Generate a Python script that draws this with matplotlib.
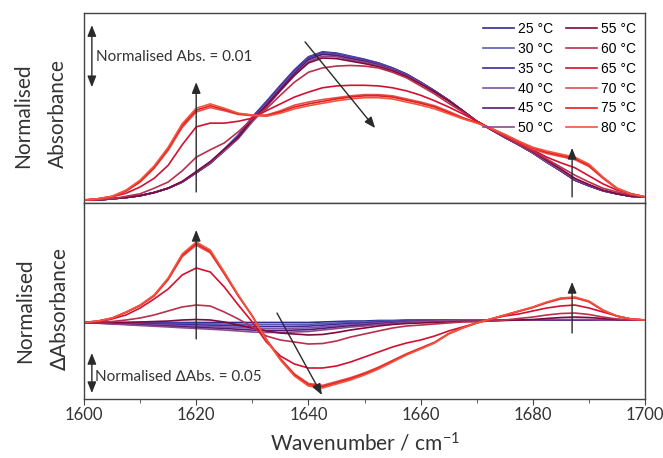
import numpy as np
import matplotlib
matplotlib.use("Agg")
import matplotlib.pyplot as plt
from matplotlib.ticker import MultipleLocator

plt.rcParams["font.family"] = ["Lato", "DejaVu Sans"]
plt.rcParams["mathtext.default"] = "regular"

# wavenumber grid (cm-1), 2.5 cm-1 steps
wavenumber = np.linspace(1600, 1700, 41)

temps = [25, 30, 35, 40, 45, 50, 55, 60, 65, 70, 75, 80]
colors = ["#2e2e8c", "#5b5bb5", "#3d2a9c", "#7b55a8", "#551a78", "#8a4a8c",
          "#7d0a3c", "#b8304e", "#d41030", "#e25050", "#e81c1c", "#f2553e"]

# normalised absorbance, units of 1e-3
abs_25 = [0.0, 0.0, 0.2, 0.4, 0.7, 1.2, 1.9, 2.9, 4.4, 6.0, 8.2, 10.5, 13.4, 15.9, 18.5, 21.0, 23.1, 23.9, 23.7, 23.2, 22.7,
          22.1, 21.3, 20.3, 19.0, 17.6, 16.1, 14.4, 12.7, 11.4, 10.1, 8.9, 7.6, 6.1, 4.7, 3.2, 2.3, 1.5, 1.0, 0.6, 0.5]
abs_30 = [0.0, 0.0, 0.2, 0.4, 0.7, 1.2, 1.9, 2.9, 4.4, 6.0, 8.2, 10.4, 13.3, 15.8, 18.4, 20.9, 23.0, 23.8, 23.6, 23.1, 22.6,
          22.1, 21.3, 20.3, 19.0, 17.6, 16.1, 14.4, 12.7, 11.4, 10.1, 8.9, 7.6, 6.1, 4.7, 3.2, 2.3, 1.5, 1.0, 0.6, 0.5]
abs_35 = [0.0, 0.0, 0.2, 0.4, 0.7, 1.2, 1.9, 2.9, 4.4, 6.0, 8.1, 10.3, 13.2, 15.7, 18.3, 20.8, 22.9, 23.7, 23.5, 23.0, 22.6,
          22.0, 21.2, 20.3, 19.0, 17.6, 16.1, 14.4, 12.7, 11.4, 10.1, 8.9, 7.6, 6.1, 4.7, 3.2, 2.3, 1.5, 1.0, 0.6, 0.5]
abs_40 = [0.0, 0.0, 0.2, 0.4, 0.7, 1.2, 1.9, 2.9, 4.4, 5.9, 8.0, 10.1, 13.0, 15.5, 18.1, 20.6, 22.7, 23.6, 23.4, 22.9, 22.5,
          21.9, 21.1, 20.2, 18.9, 17.5, 16.1, 14.4, 12.7, 11.4, 10.1, 8.9, 7.6, 6.1, 4.7, 3.2, 2.3, 1.5, 1.0, 0.6, 0.5]
abs_45 = [0.0, 0.0, 0.2, 0.4, 0.7, 1.2, 1.9, 2.9, 4.4, 5.9, 7.9, 10.0, 12.8, 15.3, 17.9, 20.4, 22.6, 23.5, 23.3, 22.8, 22.4,
          21.8, 21.0, 20.1, 18.8, 17.5, 16.0, 14.4, 12.7, 11.4, 10.1, 8.9, 7.6, 6.1, 4.7, 3.2, 2.3, 1.5, 1.0, 0.6, 0.5]
abs_50 = [0.0, 0.0, 0.2, 0.4, 0.7, 1.2, 1.9, 2.9, 4.5, 6.0, 7.9, 9.9, 12.6, 15.0, 17.6, 20.1, 22.3, 23.2, 23.1, 22.6, 22.2,
          21.7, 20.9, 20.0, 18.8, 17.4, 16.0, 14.3, 12.7, 11.4, 10.1, 8.9, 7.6, 6.1, 4.8, 3.3, 2.4, 1.5, 1.0, 0.6, 0.5]
abs_55 = [0.0, 0.0, 0.2, 0.4, 0.7, 1.2, 1.9, 3.0, 4.6, 6.2, 8.2, 10.1, 13.0, 15.2, 17.7, 20.1, 22.1, 22.9, 22.8, 22.4, 22.0,
          21.5, 20.8, 19.9, 18.7, 17.4, 16.0, 14.4, 12.7, 11.4, 10.2, 9.0, 7.8, 6.4, 5.0, 3.5, 2.5, 1.6, 1.0, 0.6, 0.5]
abs_60 = [0.0, 0.1, 0.2, 0.6, 1.0, 1.9, 2.9, 4.7, 6.9, 8.1, 9.2, 11.0, 13.1, 14.7, 16.9, 19.0, 20.6, 21.3, 21.6, 21.7, 21.6,
          21.3, 20.6, 19.7, 18.4, 17.1, 15.6, 14.2, 12.7, 11.5, 10.2, 9.0, 7.9, 6.6, 5.3, 4.0, 2.9, 1.9, 1.3, 0.8, 0.5]
abs_65 = [0.0, 0.2, 0.5, 1.1, 2.1, 3.5, 5.6, 8.9, 11.8, 12.4, 12.4, 12.7, 13.2, 14.4, 15.5, 16.6, 17.4, 18.1, 18.4, 18.5, 18.5,
          18.4, 18.1, 17.6, 16.9, 16.0, 15.0, 13.9, 12.7, 11.5, 10.3, 9.2, 8.1, 6.9, 6.0, 5.2, 3.9, 2.6, 1.6, 1.0, 0.5]
abs_70 = [0.0, 0.1, 0.5, 1.4, 2.9, 5.1, 8.0, 11.7, 14.2, 14.9, 14.4, 13.8, 13.6, 13.7, 14.4, 15.3, 15.8, 16.2, 16.5, 16.8, 17.0,
          17.0, 16.8, 16.3, 15.8, 15.2, 14.3, 13.3, 12.5, 11.5, 10.4, 9.3, 8.2, 7.5, 7.0, 6.5, 5.4, 3.5, 1.8, 1.0, 0.5]
abs_75 = [0.0, 0.2, 0.6, 1.5, 3.0, 5.3, 8.3, 12.0, 14.5, 15.2, 14.6, 13.9, 13.7, 13.6, 14.2, 15.0, 15.5, 15.9, 16.3, 16.6, 16.8,
          16.8, 16.6, 16.1, 15.6, 15.0, 14.1, 13.2, 12.5, 11.6, 10.5, 9.4, 8.4, 7.7, 7.2, 6.7, 5.6, 3.6, 1.9, 1.0, 0.5]
abs_80 = [0.0, 0.2, 0.6, 1.6, 3.2, 5.5, 8.5, 12.3, 14.8, 15.5, 14.8, 14.0, 13.7, 13.5, 14.0, 14.7, 15.2, 15.6, 16.0, 16.3, 16.5,
          16.5, 16.3, 15.8, 15.3, 14.7, 13.9, 13.1, 12.4, 11.6, 10.6, 9.5, 8.5, 7.9, 7.4, 6.9, 5.8, 3.7, 1.9, 1.0, 0.5]

# normalised difference absorbance, units of 1e-3
diff_25 = [-0.6, -0.6, -0.6, -0.6, -0.6, -0.6, -0.6, -0.6, -0.6, -0.6, -0.6, -0.6, -0.6, -0.6, -0.6, -0.6, -0.6, 0.0, 0.6, 1.2,
           1.2, 1.9, 1.9, 2.5, 2.5, 2.5, 2.5, 2.5, 2.5, 2.5, 2.5, 2.5, 2.5, 2.5, 2.5, 2.5, 2.5, 2.5, 2.5, 2.5, 2.5]
diff_30 = [-0.6, -0.8, -1.0, -1.2, -1.4, -1.5, -1.7, -1.9, -2.1, -2.3, -2.5, -2.7, -3.0, -3.1, -3.1, -3.0, -2.9, -2.0, -1.2, -0.3,
           0.0, 0.9, 1.2, 1.9, 2.1, 2.2, 2.4, 2.5, 2.5, 2.5, 2.5, 2.5, 2.5, 2.5, 2.5, 2.5, 2.5, 2.5, 2.5, 2.5, 2.5]
diff_35 = [-0.6, -1.0, -1.4, -1.7, -2.1, -2.5, -2.9, -3.2, -3.6, -4.0, -4.4, -4.9, -5.4, -5.6, -5.6, -5.4, -5.1, -4.0, -2.9, -1.8,
           -1.3, -0.1, 0.4, 1.4, 1.8, 2.0, 2.3, 2.5, 2.5, 2.5, 2.5, 2.5, 2.5, 2.5, 2.5, 2.5, 2.5, 2.5, 2.5, 2.5, 2.5]
diff_40 = [-0.6, -1.2, -1.7, -2.3, -2.9, -3.4, -4.0, -4.5, -5.1, -5.7, -6.2, -7.0, -7.7, -8.1, -8.1, -7.7, -7.4, -6.0, -4.6, -3.3,
           -2.6, -1.1, -0.4, 0.8, 1.4, 1.8, 2.1, 2.5, 2.5, 2.5, 2.5, 2.5, 2.5, 2.5, 2.5, 2.5, 2.5, 2.5, 2.5, 2.5, 2.5]
diff_45 = [-0.6, -1.4, -2.1, -2.9, -3.6, -4.4, -5.1, -5.9, -6.6, -7.4, -8.1, -9.1, -10.1, -10.6, -10.6, -10.1, -9.6, -8.0, -6.4,
           -4.8, -3.8, -2.1, -1.1, 0.2, 1.0, 1.5, 2.0, 2.5, 2.5, 2.5, 2.5, 2.5, 2.5, 2.5, 2.5, 2.5, 2.5, 2.5, 2.5, 2.5, 2.5]
diff_50 = [-0.6, -1.5, -2.5, -3.4, -4.4, -5.3, -6.2, -7.2, -8.1, -9.0, -10.0, -11.2, -12.5, -13.1, -13.1, -12.5, -11.9, -10.0,
           -8.2, -6.3, -5.0, -3.1, -1.9, -0.3, 0.6, 1.2, 1.9, 2.5, 2.5, 2.5, 2.5, 2.5, 2.5, 3.1, 3.1, 3.1, 3.1, 2.5, 2.5, 2.5, 2.5]
diff_55 = [-0.6, -0.6, -0.6, -0.6, 0.0, 0.6, 1.2, 2.5, 3.1, 2.5, 0.0, -3.8, -7.5, -11.2, -13.8, -15.0, -16.2, -15.6, -13.1, -10.0,
           -7.5, -5.0, -3.1, -1.9, -1.2, -0.6, 0.0, 0.6, 0.6, 1.2, 1.9, 2.5, 3.1, 4.4, 5.6, 6.2, 5.6, 4.4, 3.1, 2.5, 2.5]
diff_60 = [-0.6, 0.0, 0.6, 2.5, 5.0, 8.8, 13.8, 18.8, 21.2, 20.0, 12.5, 3.8, -6.2, -17.5, -22.5, -25.0, -27.5, -26.9, -23.8, -18.8,
           -15.0, -11.2, -7.5, -5.0, -3.8, -2.5, -1.2, 0.0, 0.6, 1.2, 2.5, 4.4, 6.2, 8.8, 10.6, 11.2, 9.4, 6.2, 3.8, 2.5, 2.5]
diff_65 = [-0.6, 0.0, 3.8, 8.8, 17.5, 28.8, 41.2, 58.8, 67.5, 62.5, 43.8, 21.2, 0.0, -25.0, -42.5, -52.5, -57.5, -57.5, -55.0,
           -50.0, -43.8, -37.5, -31.2, -26.2, -22.5, -17.5, -11.2, -6.2, -1.2, 3.8, 7.5, 10.0, 13.8, 17.5, 20.0, 21.2, 17.5, 12.5,
           7.5, 3.8, 2.5]
diff_70 = [-0.6, 1.2, 4.8, 12.0, 20.4, 32.4, 52.8, 81.6, 96.0, 86.4, 60.0, 32.4, 7.2, -21.6, -45.6, -64.8, -76.8, -79.2, -74.4,
           -69.6, -63.6, -56.4, -48.0, -39.6, -32.4, -25.2, -14.4, -7.2, -1.2, 3.6, 8.4, 13.2, 18.0, 24.0, 28.8, 30.0, 25.2, 14.4,
           7.2, 3.6, 2.5]
diff_75 = [-0.6, 1.2, 4.9, 12.2, 20.8, 33.1, 53.9, 83.3, 98.0, 88.2, 61.2, 33.1, 7.4, -22.0, -46.5, -66.1, -78.4, -80.8, -76.0,
           -71.0, -64.9, -57.6, -49.0, -40.4, -33.1, -25.7, -14.7, -7.4, -1.2, 3.7, 8.6, 13.5, 18.4, 24.5, 29.4, 30.6, 25.7, 14.7,
           7.4, 3.7, 2.5]
diff_80 = [-0.6, 1.2, 5.0, 12.5, 21.2, 33.8, 55.0, 85.0, 100.0, 90.0, 62.5, 33.8, 7.5, -22.5, -47.5, -67.5, -80.0, -82.5, -77.5,
           -72.5, -66.2, -58.8, -50.0, -41.2, -33.8, -26.2, -15.0, -7.5, -1.2, 3.8, 8.8, 13.8, 18.8, 25.0, 30.0, 31.2, 26.2, 15.0,
           7.5, 3.8, 2.5]

absorbance = [abs_25, abs_30, abs_35, abs_40, abs_45, abs_50,
              abs_55, abs_60, abs_65, abs_70, abs_75, abs_80]
difference = [diff_25, diff_30, diff_35, diff_40, diff_45, diff_50,
              diff_55, diff_60, diff_65, diff_70, diff_75, diff_80]

abs_scale = 0.01
diff_scale = 0.05

ink = "#2a2a2a"
fig = plt.figure(figsize=(6.63, 4.58), dpi=100)
ax_abs = fig.add_axes([0.1267, 0.5568, 0.8462, 0.4148])
ax_diff = fig.add_axes([0.1267, 0.1288, 0.8462, 0.4280], sharex=ax_abs)

for t, c, a, d in zip(temps, colors, absorbance, difference):
    ax_abs.plot(wavenumber, np.array(a) * 1e-3, color=c, lw=1.2, label=f"{t} °C",
                solid_joinstyle="round")
    ax_diff.plot(wavenumber, np.array(d) * 1e-3, color=c, lw=1.2, solid_joinstyle="round")

ax_abs.set_xlim(1600, 1700)
ax_abs.set_ylim(-0.48e-3, 30.16e-3)
ax_diff.set_ylim(-96.25e-3, 148.75e-3)

arrow = dict(arrowstyle="-|>,head_length=0.55,head_width=0.22", color=ink, lw=1.0,
             shrinkA=0, shrinkB=0, mutation_scale=12)
bar = dict(arrowstyle="<|-|>,head_length=0.55,head_width=0.22", color=ink, lw=1.0,
           shrinkA=0, shrinkB=0, mutation_scale=12)

# top panel: trend arrows and scale bar
ax_abs.annotate("", xy=(1620, 19.0e-3), xytext=(1620, 1.3e-3), arrowprops=arrow)
ax_abs.annotate("", xy=(1687, 8.4e-3), xytext=(1687, 0.5e-3), arrowprops=arrow)
ax_abs.annotate("", xy=(1651.9, 11.6e-3), xytext=(1639.4, 25.5e-3), arrowprops=arrow)
ax_abs.annotate("", xy=(1601.4, 28.2e-3 - abs_scale), xytext=(1601.4, 28.2e-3), arrowprops=bar)
ax_abs.text(1602.1, 23.1e-3, f"Normalised Abs. = {abs_scale}", fontsize=11, color="#333333",
            va="center", ha="left")

# bottom panel: trend arrows and scale bar
ax_diff.annotate("", xy=(1620, 115e-3), xytext=(1620, -21.2e-3), arrowprops=arrow)
ax_diff.annotate("", xy=(1687, 50e-3), xytext=(1687, -13.8e-3), arrowprops=arrow)
ax_diff.annotate("", xy=(1642.4, -91.2e-3), xytext=(1634.4, 11.2e-3), arrowprops=arrow)
ax_diff.annotate("", xy=(1601.4, -38.8e-3 - diff_scale), xytext=(1601.4, -38.8e-3), arrowprops=bar)
ax_diff.text(1602.0, -68.8e-3, f"Normalised ∆Abs. = {diff_scale}", fontsize=11, color="#333333",
             va="center", ha="left")

for ax in (ax_abs, ax_diff):
    ax.set_yticks([])
    for sp in ax.spines.values():
        sp.set_color("#444444")
        sp.set_linewidth(1.0)
    ax.xaxis.set_major_locator(MultipleLocator(20))
    ax.xaxis.set_minor_locator(MultipleLocator(10))
    ax.tick_params(axis="x", which="both", direction="out", color="#444444",
                   labelsize=12, labelcolor="#333333", pad=1.5)
    ax.tick_params(axis="x", which="major", length=4)
    ax.tick_params(axis="x", which="minor", length=3)
ax_abs.tick_params(axis="x", labelbottom=False)

ax_abs.legend(ncol=2, loc="upper right", frameon=False,
              prop=dict(family="Liberation Sans", size=10),
              handlelength=2.2, handletextpad=0.3, columnspacing=0.95,
              labelspacing=0.42, borderaxespad=0.25)

label_style = dict(rotation=90, ha="center", va="center", fontsize=15, color="#333333")
fig.text(23 / 663, 1 - 116 / 458, "Normalised", **label_style)
fig.text(58 / 663, 1 - 114 / 458, "Absorbance", **label_style)
fig.text(25 / 663, 1 - 311 / 458, "Normalised", **label_style)
fig.text(60 / 663, 1 - 310 / 458, "∆Absorbance", **label_style)
fig.text(364.5 / 663, 1 - 443 / 458, "Wavenumber / cm$^{-1}$", ha="center", va="center",
         fontsize=15, color="#333333")

fig.savefig("out.png", dpi=100)
